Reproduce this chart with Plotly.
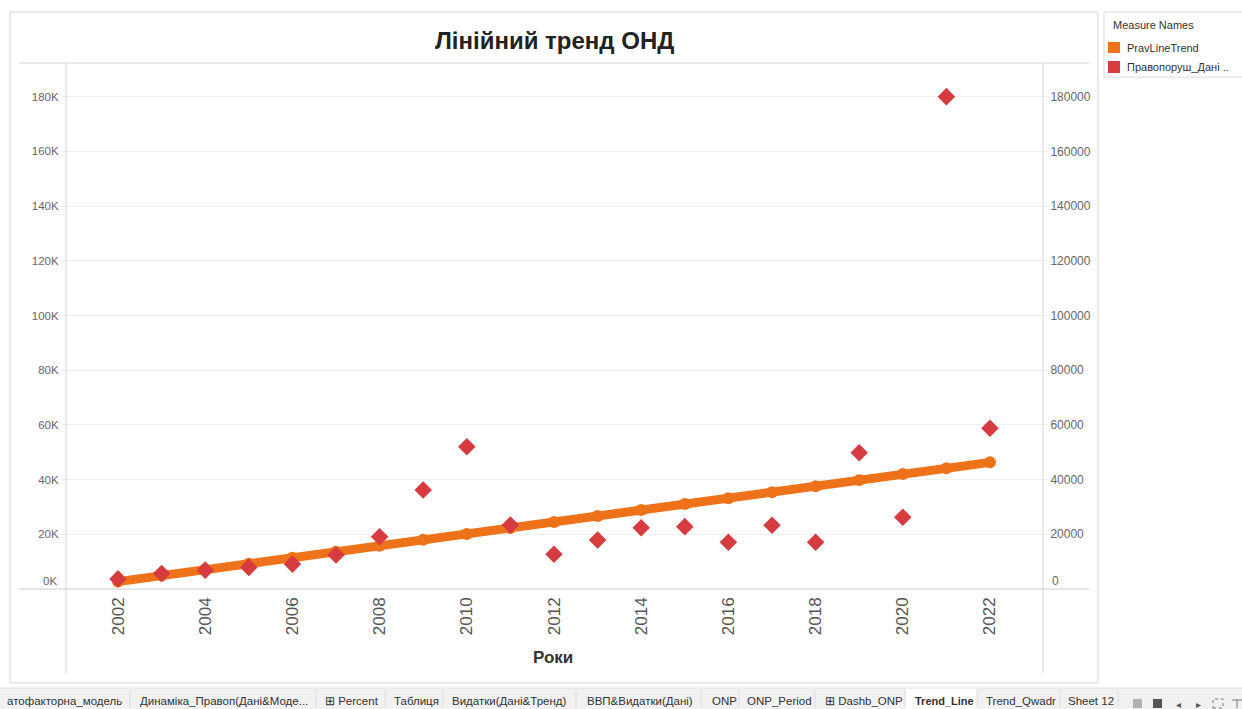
import plotly.graph_objects as go

# --- data ---
years = list(range(2002, 2023))
prav_trend = [2700, 4900, 7100, 9200, 11400, 13600, 15800, 18000, 20100, 22300,
              24500, 26700, 28900, 31100, 33200, 35400, 37600, 39800, 42000, 44100, 46300]
prav_data = [3700, 5700, 6900, 7900, 9100, 12400, 19100, 36200, 52000, 23400,
             12700, 17900, 22400, 22800, 17100, 23300, 17100, 49800, 26200, 180000, 58800]
x_ticks = list(range(2002, 2023, 2))
y_ticks = [20000, 40000, 60000, 80000, 100000, 120000, 140000, 160000, 180000]
y_left_text = ["20K", "40K", "60K", "80K", "100K", "120K", "140K", "160K", "180K"]
y_right_text = ["20000", "40000", "60000", "80000", "100000", "120000", "140000", "160000", "180000"]
tabs = ["атофакторна_модель", "Динаміка_Правоп(Дані&Моде...", "⊞ Percent", "Таблиця",
        "Видатки(Дані&Тренд)", "ВВП&Видатки(Дані)", "ONP", "ONP_Period", "⊞ Dashb_ONP",
        "Trend_Line", "Trend_Qwadr", "Sheet 12"]
tab_x = [5, 138, 323, 392, 450, 585, 710, 745, 823, 913, 984, 1066]
tab_sep = [130, 316, 385, 443, 576, 701, 739, 815, 905, 977, 1060, 1118]

W, H = 1242, 709
ORANGE = "#EE7219"
RED = "#D63B3F"
GRID = "#EFEFEF"
LINE = "#D4D4D4"
FONT = "Liberation Sans"


def px(x):
    return x / W


def py(y):
    return (H - y) / H


def label(text, x, y, size, color="#333", xanchor="left", family=FONT):
    return dict(text=text, x=px(x), y=py(y), xref="paper", yref="paper",
                xanchor=xanchor, yanchor="middle", showarrow=False,
                font=dict(family=family, size=size, color=color))


fig = go.Figure()

# --- trend line ---
fig.add_trace(go.Scatter(
    x=years, y=prav_trend, mode="lines+markers",
    line=dict(color=ORANGE, width=9),
    marker=dict(color=ORANGE, size=12, symbol="circle"),
    name="PravLineTrend", showlegend=False,
))

# --- actual values ---
fig.add_trace(go.Scatter(
    x=years, y=prav_data, mode="markers",
    marker=dict(color=RED, size=13.5, symbol="diamond", line=dict(width=0)),
    name="Правопоруш_Дані", showlegend=False,
))

# dummy trace so the right axis is drawn
fig.add_trace(go.Scatter(x=[years[0]], y=[prav_data[0]], yaxis="y2", mode="markers",
                         marker=dict(opacity=0), showlegend=False, hoverinfo="skip"))

yr = [0, 192300]
fig.update_layout(
    width=W, height=H,
    margin=dict(l=0, r=0, t=0, b=0),
    paper_bgcolor="white", plot_bgcolor="white",
    font=dict(family=FONT, size=12, color="#666"),
    xaxis=dict(domain=[px(66), px(1043)], range=[2000.807, 2023.216],
               tickvals=x_ticks, tickangle=-90, showgrid=False, zeroline=False,
               showline=False, ticks="", ticklabelstandoff=4,
               tickfont=dict(family=FONT, size=17, color="#555")),
    yaxis=dict(domain=[py(589), py(63)], range=yr, tickvals=y_ticks, ticktext=y_left_text,
               showgrid=True, gridcolor=GRID, gridwidth=1, zeroline=False, showline=False,
               ticks="outside", ticklen=4, tickcolor=GRID, ticklabelstandoff=0,
               tickfont=dict(family=FONT, size=11.5, color="#666")),
    yaxis2=dict(overlaying="y", side="right", range=yr, tickvals=y_ticks, ticktext=y_right_text,
                showgrid=False, zeroline=False, showline=False,
                ticks="outside", ticklen=4, tickcolor=GRID, ticklabelstandoff=0,
                tickfont=dict(family=FONT, size=12, color="#666")),
)

shapes = [
    # outer frame of the sheet
    dict(type="rect", xref="paper", yref="paper", x0=px(10), x1=px(1098), y0=py(683), y1=py(12),
         line=dict(color=LINE, width=1)),
    # header separator and x axis baseline
    dict(type="line", xref="paper", yref="paper", x0=px(19), x1=px(1089), y0=py(63), y1=py(63),
         line=dict(color=LINE, width=1)),
    dict(type="line", xref="paper", yref="paper", x0=px(19), x1=px(1089), y0=py(589), y1=py(589),
         line=dict(color="#CCCCCC", width=1)),
    # vertical axis rules
    dict(type="line", xref="paper", yref="paper", x0=px(66), x1=px(66), y0=py(63), y1=py(673),
         line=dict(color=LINE, width=1)),
    dict(type="line", xref="paper", yref="paper", x0=px(1043), x1=px(1043), y0=py(63), y1=py(673),
         line=dict(color=LINE, width=1)),
    # legend box
    dict(type="rect", xref="paper", yref="paper", x0=px(1104), x1=px(1245), y0=py(77), y1=py(12),
         line=dict(color="#DADADA", width=1), fillcolor="white"),
    dict(type="rect", xref="paper", yref="paper", x0=px(1108), x1=px(1120), y0=py(53), y1=py(42),
         line=dict(width=0), fillcolor=ORANGE),
    dict(type="rect", xref="paper", yref="paper", x0=px(1108), x1=px(1120), y0=py(73), y1=py(61),
         line=dict(width=0), fillcolor=RED),
    # tab strip
    dict(type="rect", xref="paper", yref="paper", x0=0, x1=1, y0=0, y1=py(688),
         line=dict(width=0), fillcolor="#F1F1F1", layer="below"),
    dict(type="line", xref="paper", yref="paper", x0=0, x1=1, y0=py(688), y1=py(688),
         line=dict(color="#E0E0E0", width=1)),
    dict(type="rect", xref="paper", yref="paper", x0=px(905), x1=px(977), y0=0, y1=py(688),
         line=dict(width=0), fillcolor="white", layer="below"),
    # bottom-right toolbar icons
    dict(type="rect", xref="paper", yref="paper", x0=px(1133), x1=px(1142), y0=py(708), y1=py(699),
         line=dict(width=0), fillcolor="#B0B0B0"),
    dict(type="rect", xref="paper", yref="paper", x0=px(1153), x1=px(1162), y0=py(708), y1=py(699),
         line=dict(width=0), fillcolor="#555555"),
    dict(type="rect", xref="paper", yref="paper", x0=px(1213), x1=px(1223), y0=py(708), y1=py(699),
         line=dict(color="#777777", width=1, dash="dot")),
    dict(type="line", xref="paper", yref="paper", x0=px(1232), x1=px(1242), y0=py(700), y1=py(700),
         line=dict(color="#777777", width=1)),
    dict(type="line", xref="paper", yref="paper", x0=px(1237), x1=px(1237), y0=py(700), y1=py(708),
         line=dict(color="#777777", width=1)),
]
for s in tab_sep:
    shapes.append(dict(type="line", xref="paper", yref="paper", x0=px(s), x1=px(s),
                       y0=py(707), y1=py(690), line=dict(color="#DCDCDC", width=1)))
fig.update_layout(shapes=shapes)

annotations = [
    label("<b>Лінійний тренд ОНД</b>", 554, 40, 24, "#222", "center"),
    label("<b>Роки</b>", 553, 657, 17, "#333", "center"),
    # zero labels sit a little above the baseline
    label("0K", 59, 581, 11.5, "#666", "right"),
    label("0", 1050, 581, 12, "#666"),
    # legend
    label("Measure Names", 1111, 25, 11),
    label("PravLineTrend", 1125, 48, 11),
    label("Правопоруш_Дані ..", 1125, 67, 11),
    label("◂", 1178, 704, 10, "#555", "center"),
    label("▸", 1198, 704, 10, "#555", "center"),
]
for name, x in zip(tabs, tab_x):
    if name == "Trend_Line":
        annotations.append(label(f"<b>{name}</b>", x, 701, 11))
    else:
        annotations.append(label(name, x, 701, 11.5))
fig.update_layout(annotations=annotations)

# page body margin would push the fixed-size figure off the window
fig.write_html("out.html", config={"displayModeBar": False},
               post_script="document.body.style.margin='0';")
